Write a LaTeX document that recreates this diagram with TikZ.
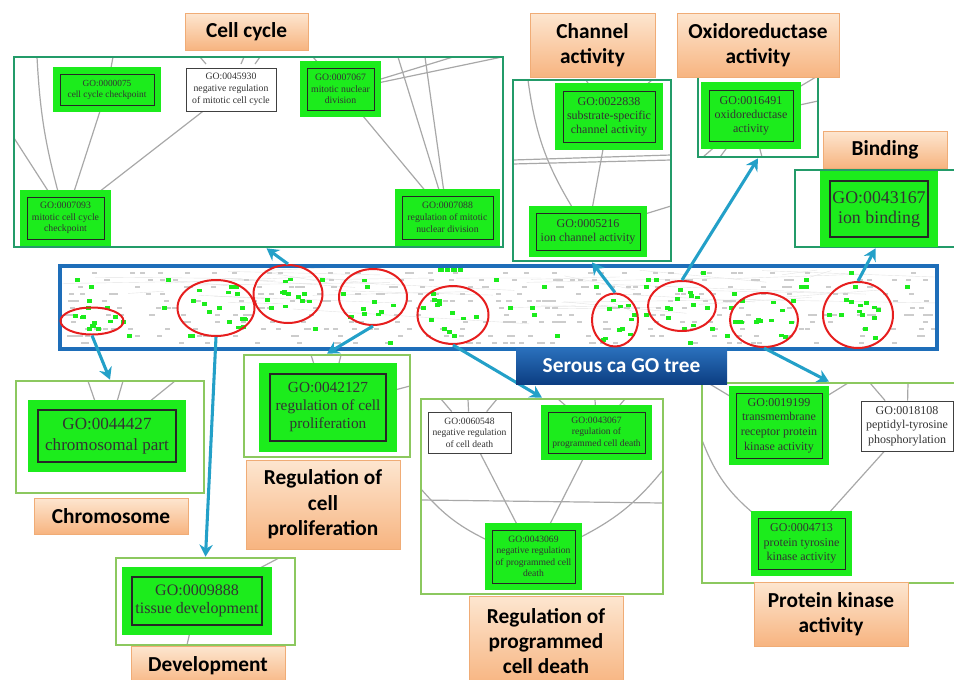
\documentclass[tikz,border=0pt]{standalone}
\usepackage{fontspec}
\setmainfont{Liberation Serif}
\newfontfamily\labelfont{Carlito}
\usetikzlibrary{positioning,shapes.geometric,arrows.meta,backgrounds}

\definecolor{gogreen}{RGB}{28,236,28}
\definecolor{panelA}{RGB}{35,155,105}
\definecolor{panelB}{RGB}{140,200,95}
\definecolor{stripblue}{RGB}{30,110,185}
\definecolor{arrowblue}{RGB}{35,160,200}
\definecolor{ringred}{RGB}{230,30,30}
\definecolor{peachtop}{RGB}{253,230,208}
\definecolor{peachbot}{RGB}{247,180,128}
\definecolor{peachline}{RGB}{240,172,118}
\definecolor{edgegray}{RGB}{168,168,168}
\definecolor{navytop}{RGB}{42,112,188}
\definecolor{navybot}{RGB}{12,62,130}

\tikzset{
  sz/.style 2 args={minimum width=#1*0.75pt, minimum height=#2*0.75pt},
  fs/.style 2 args={font=\fontsize{#1}{#2}\selectfont},
  gonode/.style={draw=black!85, line width=0.7pt, fill=gogreen, text=black!80,
    align=center, inner sep=0pt, preaction={draw=gogreen, line width=#1*1.5pt}},
  gonode/.default=7,
  wnode/.style={draw=black!75, line width=0.6pt, fill=white, text=black!80,
    align=center, inner sep=0pt},
  panelbox/.style={draw=#1, line width=2pt, inner sep=0pt},
  catlabel/.style={draw=peachline, line width=0.5pt, top color=peachtop,
    bottom color=peachbot, align=center, inner sep=0pt,
    font=\labelfont\bfseries\fontsize{16}{19}\selectfont},
  serous/.style={top color=navytop, bottom color=navybot, text=white,
    inner sep=0pt, font=\labelfont\bfseries\fontsize{16}{19}\selectfont},
  redring/.style={ellipse, draw=ringred, line width=1.5pt, inner sep=0pt},
  pointer/.style={draw=arrowblue, line width=2.3pt,
    -{Stealth[length=9pt, width=10pt]}},
  goedge/.style={draw=edgegray, line width=0.9pt},
}

\begin{document}
\begin{tikzpicture}[x=0.75pt, y=-0.75pt]
    \useasboundingbox (0,0) rectangle (954,679);

    % Panels
    \node[panelbox=panelA, sz={489}{190}] (CC) at (258.5,152) {};
    \node[panelbox=panelA, sz={158}{181}] (CH) at (592,170.5) {};
    \node[panelbox=panelA, sz={120}{80}] (OX) at (758,117) {};
    \node[panelbox=panelA, sz={161}{77}] (BD) at (875.5,208.5) {};
    \node[panelbox=panelB, sz={188}{112}] (CHR) at (110,437) {};
    \node[panelbox=panelB, sz={166}{102}] (PRO) at (327,406) {};
    \node[panelbox=panelB, sz={179}{87}] (DEV) at (205.5,601.5) {};
    \node[panelbox=panelB, sz={242}{195}] (PCD) at (542,496.5) {};
    \node[panelbox=panelB, sz={254}{200}] (PK) at (829,483) {};

    % Cell cycle terms
    \node[gonode, sz={94}{31}, fs={7}{8.4}] (g075) at (107,89.5) {GO:0000075\\cell cycle checkpoint};
    \node[wnode, sz={90}{43}, fs={7.3}{8.8}] (w930) at (231,89.5) {GO:0045930\\negative regulation\\of mitotic cell cycle};
    \node[gonode, sz={67}{42}, fs={7.3}{8.8}] (g067) at (340.5,89) {GO:0007067\\mitotic nuclear\\division};
    \node[gonode, sz={77}{42}, fs={7.3}{8.8}] (g093) at (65.5,218) {GO:0007093\\mitotic cell cycle\\checkpoint};
    \node[gonode, sz={91}{43}, fs={7.3}{8.8}] (g088) at (447.5,217.5) {GO:0007088\\regulation of mitotic\\nuclear division};

    % Channel, oxidoreductase, binding terms
    \node[gonode=8, sz={92}{51}, fs={9}{10.5}] (g838) at (609,116.5) {GO:0022838\\substrate-specific\\channel activity};
    \node[gonode=7, sz={104}{37}, fs={9}{10.5}] (g216) at (588,231.5) {GO:0005216\\ion channel activity};
    \node[gonode=8, sz={84}{51}, fs={9}{10.5}] (g491) at (751,115.5) {GO:0016491\\oxidoreductase\\activity};
    \node[gonode=10, line width=1.1pt, sz={98}{56}, fs={13.4}{15}] (g167) at (879,209) {GO:0043167\\ion binding};

    % Chromosome, proliferation, development terms
    \node[gonode=10, line width=1.1pt, sz={138}{52}, fs={12.8}{16}] (g427) at (107,436) {GO:0044427\\chromosomal part};
    \node[gonode=11, line width=1.1pt, sz={116}{67}, fs={11.5}{13.5}] (g127) at (328,407.5) {GO:0042127\\regulation of cell\\proliferation};
    \node[gonode=10, line width=1.1pt, sz={130}{48}, fs={12}{14}] (g888) at (197,601) {GO:0009888\\tissue development};

    % Programmed cell death terms
    \node[wnode, sz={83}{41}, fs={7.2}{8.6}] (w548) at (469.5,432.5) {GO:0060548\\negative regulation\\of cell death};
    \node[gonode, sz={97}{41}, fs={7.2}{8.6}] (g3067) at (596.5,432.5) {GO:0043067\\regulation of\\programmed cell death};
    \node[gonode, sz={83}{53}, fs={7.2}{8.6}] (g3069) at (533.5,556.5) {GO:0043069\\negative regulation\\of programmed cell\\death};

    % Protein kinase terms
    \node[gonode, sz={86}{65}, fs={9}{11}] (g199) at (779,425.5) {GO:0019199\\transmembrane\\receptor protein\\kinase activity};
    \node[wnode, sz={92}{50}, fs={9}{11}] (w108) at (907,426) {GO:0018108\\peptidyl-tyrosine\\phosphorylation};
    \node[gonode, sz={87}{51}, fs={9}{11}] (g713) at (801.5,543.5) {GO:0004713\\protein tyrosine\\kinase activity};

    % GO graph edges
    \begin{scope}[on background layer]
        \draw[goedge] (37,57) to[bend right=6] (g093);
        \draw[goedge] (14,138) -- (g093);
        \draw[goedge] (g075) -- (g093);
        \draw[goedge] (w930) -- (g093);
        \draw[goedge] (113,57) -- (g075);
        \draw[goedge] (200,57) -- (206,64);
        \draw[goedge] (244,57) -- (241,64);
        \draw[goedge] (260,57) -- (255,64);
        \draw[goedge] (313,57) -- (g067);
        \draw[goedge] (g067) -- (g088);
        \draw[goedge] (398,57) -- (g088);
        \draw[goedge] (425,57) -- (g088);
        \draw[goedge] ([yshift=6pt]g067.east) -- (453,57);
        \draw[goedge] ([yshift=4pt]g067.east) -- (502,57);

        \draw[goedge] (528,80) to[bend right=12] (g216);
        \draw[goedge] (g838) -- (g216);
        \draw[goedge] (513,160) -- (671,155);
        \draw[goedge] (513,164) -- (671,160);
        \draw[goedge] (g216) -- (671,206);
        \draw[goedge] (586,80) -- (g838);
        \draw[goedge] (652,80) -- (g838);

        \draw[goedge] (g491) -- (816,77);
        \draw[goedge] (g491) -- (818,101);
        \draw[goedge] (g491) -- (703,157);
        \draw[goedge] (g491) -- (720,157);
        \draw[goedge] (g491) -- (762,157);

        \draw[goedge] (g167) -- (838,170);
        \draw[goedge] (g167) -- (932,247);

        \draw[goedge] (g427) -- (88,381);
        \draw[goedge] (g427) -- (123,381);
        \draw[goedge] (g427) -- (175,381);
        \draw[goedge] (g127) -- (311,355);
        \draw[goedge] (g127) -- (341,355);
        \draw[goedge] (g127) -- (410,386);
        \draw[goedge] (g888) -- (279,558);
        \draw[goedge] (g888) -- (187,645);

        \draw[goedge] (441,399) -- (w548);
        \draw[goedge] (468,399) -- (w548);
        \draw[goedge] (497,399) -- (w548);
        \draw[goedge] (558,399) -- (g3067);
        \draw[goedge] (595,399) -- (g3067);
        \draw[goedge] (625,399) -- (g3067);
        \draw[goedge] (w548) -- (g3069);
        \draw[goedge] (g3067) -- (g3069);
        \draw[goedge] (421,489) to[bend right=12] (g3069);
        \draw[goedge] (663,470) to[bend left=12] (g3069);
        \draw[goedge] (421,500) -- (663,503);

        \draw[goedge] (702,440) to[bend right=15] (g713);
        \draw[goedge] (w108) -- (g713);
        \draw[goedge] (708,383) -- (g199);
        \draw[goedge] (g199) -- (848,383);
        \draw[goedge] (870,383) -- (w108);
        \draw[goedge] (908,383) -- (w108);
    \end{scope}

    % Whole GO tree overview
    \begin{scope}
        \clip (61,267) rectangle (936,348);
        \pgfmathsetseed{11}
        \foreach \k in {1,...,40}{
            \pgfmathsetmacro\xa{62+820*rnd}
            \pgfmathsetmacro\xb{\xa+20+220*rnd}
            \pgfmathsetmacro\ya{270+40*rnd}
            \pgfmathsetmacro\yb{\ya-8+24*rnd}
            \draw[gray!22, line width=0.3pt] (\xa,\ya) -- (\xb,\yb);
        }
        \foreach \yy in {272,279,...,342}{
            \foreach \k in {1,...,34}{
                \pgfmathsetmacro\xx{64+868*rnd}
                \fill[gray!40] (\xx,\yy) rectangle ++(5,1.6);
            }
        }
        \foreach \k in {1,...,70}{
            \pgfmathsetmacro\xx{66+860*rnd}
            \pgfmathsetmacro\yy{271+7*round(10*rnd)}
            \fill[gogreen] (\xx,\yy) rectangle ++(5,3.5);
        }
        \foreach \ex/\ey/\ea/\eb in {92/321/22/8, 216/308/28/20, 288/294/26/20,
            373/297/26/20, 453/315/24/22, 615/320/14/22, 682/306/26/18,
            764/320/26/20, 858/315/28/24}{
            \foreach \k in {1,...,9}{
                \pgfmathsetmacro\xx{\ex-\ea+2*\ea*rnd}
                \pgfmathsetmacro\yy{\ey-\eb+2*\eb*rnd}
                \fill[gogreen] (\xx,\yy) rectangle ++(5,3.5);
            }
        }
        \foreach \i in {0,...,3}
            \fill[gogreen] (438+6.5*\i,268) rectangle ++(5.5,4);
    \end{scope}
    \node[draw=stripblue, line width=2.6pt, inner sep=0pt, sz={877}{83}] (tree) at (498.5,307.5) {};

    % Highlighted regions
    \node[redring, sz={63}{27}] (E1) at (92,321) {};
    \node[redring, sz={77}{56}] (E2) at (216,308) {};
    \node[redring, sz={69}{58}] (E3) at (288,294) {};
    \node[redring, sz={68}{56}] (E4) at (373,297) {};
    \node[redring, sz={71}{58}] (E5) at (453,315) {};
    \node[redring, sz={46}{53}] (E6) at (615,320) {};
    \node[redring, sz={68}{50}] (E7) at (682,306) {};
    \node[redring, sz={68}{54}] (E8) at (764,320) {};
    \node[redring, sz={70}{66}] (E9) at (858,315) {};

    % Zoom arrows
    \draw[pointer] (E1.south) -- (CHR.north);
    \draw[pointer] (E2.south) -- (DEV.north);
    \draw[pointer] (E3.north) -- ([xshift=6pt]CC.south);
    \draw[pointer] (E4.south) -- (PRO.north);
    \draw[pointer] (E5.south) -- (PCD.north);
    \draw[pointer] (E6.north) -- (CH.south);
    \draw[pointer] (E7.north) -- (OX.south);
    \draw[pointer] (E8.south) -- (PK.north);
    \draw[pointer] (E9.north) -- (BD.south);

    \node[serous, sz={211}{36}] (title) at (621.5,366) {Serous ca GO tree};

    % Category labels
    \node[catlabel, sz={123}{37}] (CClab) at (246.5,31.5) {Cell cycle};
    \node[catlabel, sz={125}{64}] (CHlab) at (592.5,45) {Channel\\activity};
    \node[catlabel, sz={162}{64}] (OXlab) at (758,45) {Oxidoreductase\\activity};
    \node[catlabel, sz={124}{37}] (BDlab) at (885,149.5) {Binding};
    \node[catlabel, sz={154}{36}] (CHRlab) at (111,516) {Chromosome};
    \node[catlabel, sz={154}{89}] (PROlab) at (323,504.5) {Regulation of\\cell\\proliferation};
    \node[catlabel, sz={154}{40}] (DEVlab) at (208,666) {Development};
    \node[catlabel, sz={154}{90}] (PCDlab) at (546,641) {Regulation of\\programmed\\cell death};
    \node[catlabel, sz={154}{64}] (PKlab) at (831,614) {Protein kinase\\activity};
\end{tikzpicture}
\end{document}
